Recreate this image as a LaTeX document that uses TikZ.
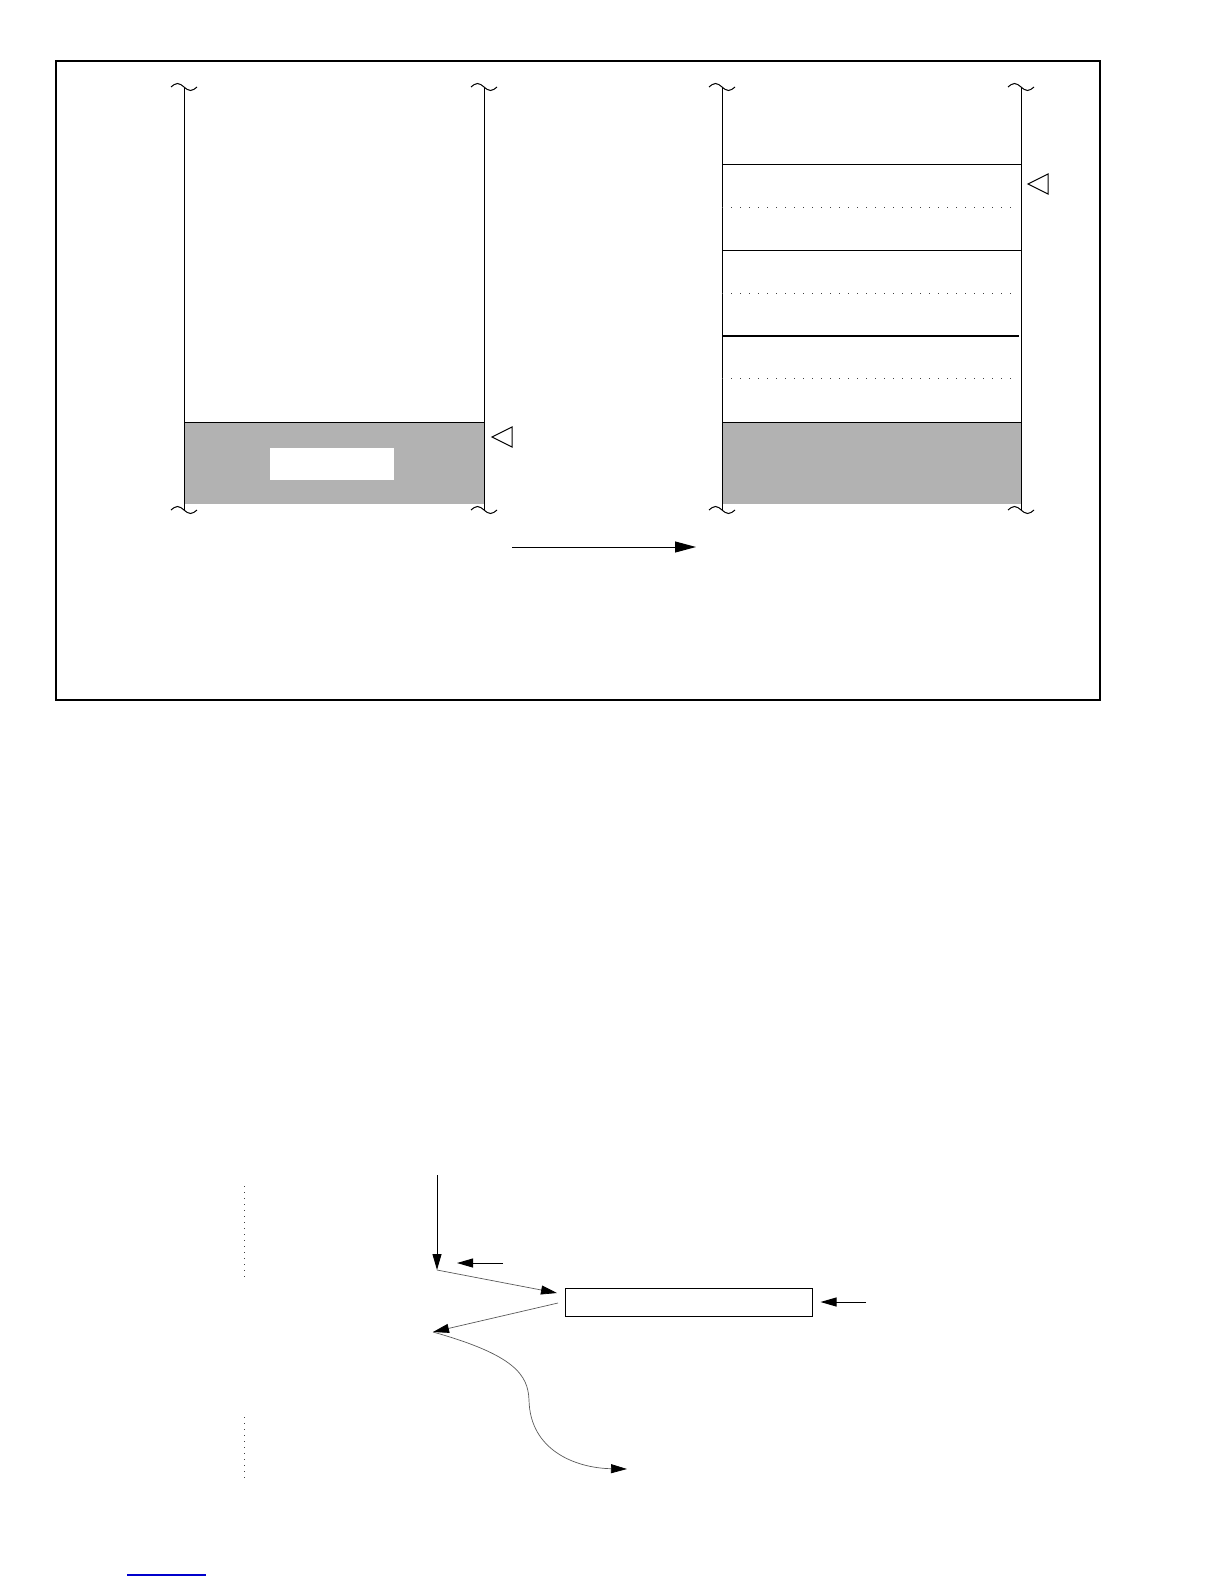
\documentclass[tikz,border=0pt]{standalone}
\usetikzlibrary{arrows.meta}

\begin{document}
\begin{tikzpicture}[x=0.5pt,y=-0.5pt,
                    wall/.style={draw,line width=0.5pt},
                    slot/.style={draw=black!75,line width=0.5pt,
                                 dash pattern=on 0.5pt off 4pt},
                    guide/.style={draw=black!75,line width=0.5pt,
                                  dash pattern=on 0.5pt off 2.5pt},
                    flow/.style={draw,line width=0.5pt,
                                 -{Triangle[length=8pt,width=4.5pt]}},
                    thin flow/.style={draw=black!65,line width=0.35pt,
                                      -{Triangle[length=8pt,width=4.5pt,color=black]}},
                    squig/.pic={\draw[line width=0.5pt] (-13,0) sin (-6.5,-3.5)
                                cos (0,0) sin (6.5,3.5) cos (13,0);}]
  \useasboundingbox (0,0) rectangle (1224,1584);

  % frame
  \draw[line width=0.6pt] (56,61) rectangle (1100,700);

  % the two stacks
  \fill[black!30] (184,422) rectangle (484,504);
  \fill[white] (270,448) rectangle (394,480);
  \fill[black!30] (722,422) rectangle (1021,504);
  \foreach \x in {184,484,722,1021} {
    \draw[wall] (\x,87) -- (\x,510);
    \pic at (\x,87) {squig};
    \pic at (\x,510) {squig};
  }
  \draw[wall] (184,422) -- (484,422);
  \draw[wall] (722,422) -- (1021,422);
  \foreach \y in {164,250}
    \draw[wall] (722,\y) -- (1021,\y);
  \draw[line width=1pt] (722,336) -- (1019,336);
  \foreach \y in {207,293,378}
    \draw[slot] (722,\y) -- (1017,\y);

  % markers
  \draw[wall] (492,437) -- (512,427) -- (512,447) -- cycle;
  \draw[wall] (1028,184) -- (1048,174) -- (1048,194) -- cycle;

  \coordinate (shift from) at (512,547);
  \coordinate (shift to) at (696,547);
  \draw[line width=0.5pt,-{Triangle[length=10.5pt,width=5.5pt]}]
    (shift from) -- (shift to);

  % lower part
  \draw[guide] (244,1186) -- (244,1282);
  \draw[guide] (244,1417) -- (244,1478);

  \node[draw,line width=0.5pt,inner sep=0pt,minimum width=123.5pt,
        minimum height=14pt] (buffer) at (688.5,1302) {};
  \coordinate (entry) at (437,1175);
  \coordinate (split) at (437,1270);
  \coordinate (hint) at (503,1263);
  \coordinate (hint tip) at (457,1263);
  \coordinate (buffer in) at (557,1293);
  \coordinate (buffer out) at (558,1303);
  \coordinate (back) at (433,1332);
  \coordinate (feed) at (866,1302);
  \coordinate (leave) at (627,1469);

  \draw[flow] (entry) -- (split);
  \draw[flow] (hint) -- (hint tip);
  \draw[thin flow] (split) -- (buffer in);
  \draw[thin flow] (buffer out) -- (back);
  \draw[flow,shorten >=4pt] (feed) -- (buffer.east);
  \draw[thin flow] (back) .. controls (515,1355) and (528,1375) .. (529,1400)
    .. controls (530,1450) and (575,1468) .. (leave);

  \draw[blue!80!black,line width=0.6pt] (127,1575) -- (206,1575);
\end{tikzpicture}
\end{document}
